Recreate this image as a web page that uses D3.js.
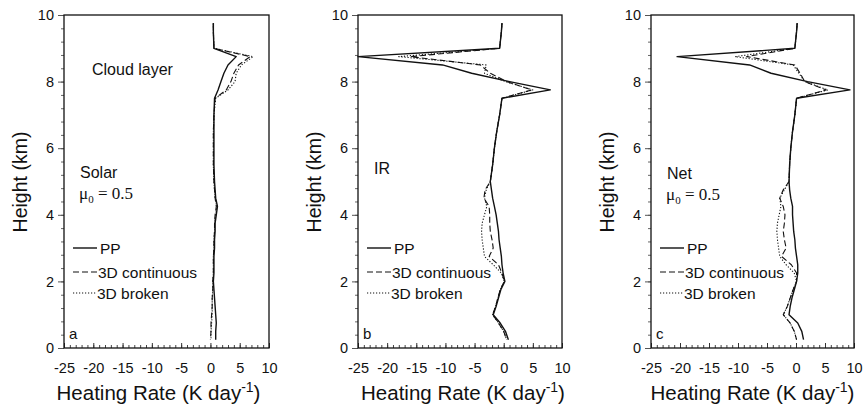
<!DOCTYPE html>
<html>
<head>
<meta charset="utf-8">
<script src="https://cdn.jsdelivr.net/npm/d3@7"></script>
<style>
  body { margin: 0; background: #fff; }
  svg { display: block; }
  text { fill: #111; }
</style>
</head>
<body>
<div id="chart"></div>
<script>
// Height levels (km) shared by every profile
const heights = [9.75, 9.5, 9.0, 8.75, 8.5, 8.25, 8.0, 7.75, 7.5, 7.0, 6.5, 6.0, 5.5, 5.0, 4.75, 4.5, 4.25,
  4.0, 3.75, 3.5, 3.25, 3.0, 2.75, 2.5, 2.25, 2.0, 1.75, 1.5, 1.25, 1.0, 0.75, 0.5, 0.25];

const xTicks = [-25, -20, -15, -10, -5, 0, 5, 10];
const yTicks = [0, 2, 4, 6, 8, 10];
const seriesNames = ['PP', '3D continuous', '3D broken'];

// Solar heating rate (K/day)
const solarPP = [0.5, 0.5, 0.6, 4.4, 3.0, 2.3, 1.8, 1.3, 0.7, 0.6, 0.6, 0.6, 0.6, 0.7, 0.8, 0.9, 1.2,
  1.0, 0.8, 0.8, 0.7, 0.7, 0.6, 0.6, 0.6, 0.5, 0.6, 0.7, 0.8, 0.9, 1.0, 0.9, 0.9];
const solar3Dc = [0.5, 0.5, 0.6, 6.8, 4.8, 4.0, 3.5, 2.7, 0.8, 0.6, 0.5, 0.5, 0.5, 0.6, 0.7, 0.8, 1.0,
  0.8, 0.7, 0.7, 0.6, 0.6, 0.5, 0.5, 0.5, 0.4, 0.4, 0.3, 0.3, 0.2, 0.1, 0.1, 0.0];
const solar3Db = [0.5, 0.5, 0.6, 7.3, 5.3, 4.4, 4.2, 3.0, 0.9, 0.6, 0.5, 0.5, 0.5, 0.6, 0.7, 0.8, 1.1,
  0.9, 0.7, 0.7, 0.6, 0.6, 0.5, 0.5, 0.5, 0.4, 0.4, 0.3, 0.3, 0.3, 0.2, 0.1, 0.1];

// IR heating rate (K/day)
const irPP = [-0.3, -0.4, -0.7, -25, -10.5, -5.5, 1.0, 8.0, -0.3, -0.7, -1.2, -1.6, -1.9, -2.3, -2.1, -1.9, -1.6,
  -1.3, -1.1, -0.9, -0.8, -0.6, -0.4, -0.3, -0.1, 0.2, -0.5, -0.9, -1.3, -1.8, -0.6, 0.3, 0.8];
const ir3Dc = [-0.3, -0.4, -0.7, -16, -4.0, -2.3, 0.5, 4.8, -0.3, -0.7, -1.2, -1.6, -1.9, -2.3, -3.2, -3.4, -2.5,
  -2.4, -2.4, -2.3, -2.0, -1.8, -2.5, -0.9, -0.3, 0.1, -0.6, -1.0, -1.4, -1.9, -0.9, 0.0, 0.5];
const ir3Db = [-0.3, -0.4, -0.7, -18, -3.0, -3.3, 0.3, 5.0, -0.3, -0.7, -1.2, -1.6, -1.9, -2.3, -3.0, -3.3, -2.9,
  -3.3, -3.7, -3.8, -3.7, -3.5, -3.3, -1.8, -0.4, 0.1, -0.6, -1.0, -1.4, -1.9, -0.9, 0.0, 0.5];

// Net heating rate (K/day)
const netPP = [0.2, 0.1, -0.2, -20.5, -8.0, -4.3, 2.0, 9.3, 0.1, -0.2, -0.6, -0.9, -1.1, -1.2, -1.1, -0.9, -0.6,
  -0.6, -0.5, -0.4, -0.2, -0.1, 0.1, 0.3, 0.3, 0.1, -0.3, -0.7, -1.0, -1.2, 0.3, 1.0, 1.3];
const net3Dc = [0.2, 0.1, -0.2, -8.5, -0.2, 0.7, 1.5, 5.2, 0.1, -0.2, -0.6, -0.9, -1.1, -1.2, -2.2, -2.8, -2.2,
  -1.9, -2.0, -2.2, -2.0, -1.7, -2.5, -0.8, 0.1, 0.1, -0.5, -1.0, -1.5, -2.2, -1.0, -0.3, 0.1];
const net3Db = [0.2, 0.1, -0.2, -10.5, -0.5, 0.5, 1.5, 5.5, 0.1, -0.2, -0.6, -0.9, -1.1, -1.2, -2.0, -2.8, -2.6,
  -2.9, -3.2, -3.3, -3.2, -3.0, -2.8, -1.7, -0.3, 0.1, -0.5, -1.0, -1.5, -2.2, -1.0, -0.3, 0.1];

const W = 865, H = 404;
const plotTop = 15, plotBottom = 348;
const SANS = '"Liberation Sans", Arial, sans-serif';
const SERIF = '"Liberation Serif", "Times New Roman", serif';
const styles = [
  { width: 1.4, dash: null },
  { width: 1.1, dash: '6,3' },
  { width: 1.1, dash: '1.2,1.8' }
];

const panels = [
  { left: 64, right: 269, series: [solarPP, solar3Dc, solar3Db], letter: 'a', name: 'Solar', mu: true, cloud: true, titleShift: -8 },
  { left: 358, right: 562, series: [irPP, ir3Dc, ir3Db], letter: 'b', name: 'IR', mu: false, cloud: false, titleShift: 3 },
  { left: 651, right: 854, series: [netPP, net3Dc, net3Db], letter: 'c', name: 'Net', mu: true, cloud: false, titleShift: 0 }
];

const svg = d3.select('#chart').append('svg')
  .attr('width', W)
  .attr('height', H)
  .style('font-family', SANS);

const y = d3.scaleLinear().domain([0, 10]).range([plotBottom, plotTop]);
const plainNum = d => String(d);   // hyphen minus, like the original

panels.forEach(p => {
  const x = d3.scaleLinear().domain([-25, 10]).range([p.left, p.right]);
  const g = svg.append('g');

  // Y axis: major + minor ticks outside
  g.append('g')
    .attr('transform', `translate(${p.left},0)`)
    .call(d3.axisLeft(y).tickValues(d3.range(0, 26).map(i => i * 0.4)).tickSize(3).tickFormat(''))
    .call(a => a.select('.domain').remove())
    .call(a => a.selectAll('line').attr('stroke', '#666'));
  g.append('g')
    .attr('transform', `translate(${p.left},0)`)
    .call(d3.axisLeft(y).tickValues(yTicks).tickSize(6).tickPadding(4).tickFormat(plainNum))
    .call(a => a.select('.domain').remove())
    .call(a => a.selectAll('line').attr('stroke', '#555'))
    .call(a => a.selectAll('text').style('font-family', SANS).style('font-size', '14.5px').attr('fill', '#111'));

  // X axis: ticks inside, labels below
  g.append('g')
    .attr('transform', `translate(0,${plotBottom})`)
    .call(d3.axisBottom(x).tickValues(d3.range(-25, 11, 1)).tickSize(-3).tickFormat(''))
    .call(a => a.select('.domain').remove())
    .call(a => a.selectAll('line').attr('stroke', '#444'));
  g.append('g')
    .attr('transform', `translate(0,${plotBottom})`)
    .call(d3.axisBottom(x).tickValues(xTicks).tickSize(-5).tickPadding(15).tickFormat(plainNum))
    .call(a => a.select('.domain').remove())
    .call(a => a.selectAll('line').attr('stroke', '#333'))
    .call(a => a.selectAll('text').style('font-family', SANS).style('font-size', '14.5px').attr('fill', '#111'));

  // Frame
  g.append('rect')
    .attr('x', p.left).attr('y', plotTop)
    .attr('width', p.right - p.left).attr('height', plotBottom - plotTop)
    .attr('fill', 'none').attr('stroke', '#111').attr('stroke-width', 1.3);

  // Profiles
  const line = d3.line()
    .x(d => x(d[1]))
    .y(d => y(d[0]));
  [2, 1, 0].forEach(i => {
    const pts = heights.map((h, k) => [h, p.series[i][k]]);
    g.append('path')
      .datum(pts)
      .attr('d', line)
      .attr('fill', 'none')
      .attr('stroke', '#111')
      .attr('stroke-width', styles[i].width)
      .attr('stroke-dasharray', styles[i].dash)
      .attr('stroke-linejoin', 'round');
  });

  // Legend
  const lx = p.left + 9;
  const legendY = [248, 272, 293];
  const textX = [lx + 27, lx + 25, lx + 24];
  seriesNames.forEach((name, i) => {
    g.append('line')
      .attr('x1', lx).attr('x2', lx + 24)
      .attr('y1', legendY[i]).attr('y2', legendY[i])
      .attr('stroke', '#111')
      .attr('stroke-width', styles[i].width)
      .attr('stroke-dasharray', styles[i].dash);
    g.append('text')
      .attr('x', textX[i]).attr('y', legendY[i] + 6)
      .style('font-size', '15.5px')
      .text(name);
  });

  // Panel letter
  g.append('text')
    .attr('x', p.left + 5).attr('y', 339)
    .style('font-size', '15px')
    .text(p.letter);

  // Panel annotations
  g.append('text')
    .attr('x', p.left + 16).attr('y', p.letter === 'c' ? 179 : (p.mu ? 178 : 174))
    .style('font-size', '16px')
    .text(p.name);
  if (p.mu) {
    const mu = g.append('text')
      .attr('x', p.left + 15).attr('y', p.letter === 'c' ? 200 : 199)
      .style('font-family', SERIF)
      .style('font-size', '17px');
    mu.append('tspan').text('μ');
    mu.append('tspan').attr('dy', 4).style('font-size', '11px').text('0');
    mu.append('tspan').attr('dy', -4).text(' = 0.5');
  }
  if (p.cloud) {
    g.append('text')
      .attr('x', p.left + 28).attr('y', 75)
      .style('font-size', '16px')
      .text('Cloud layer');
  }

  // Axis titles
  const cx = (p.left + p.right) / 2 + p.titleShift;
  const title = g.append('text')
    .attr('x', cx).attr('y', 400)
    .attr('text-anchor', 'middle')
    .style('font-size', '20.5px');
  title.append('tspan').text('Heating Rate (K day');
  title.append('tspan').attr('dy', -8).style('font-size', '14px').text('-1');
  title.append('tspan').attr('dy', 8).text(')');

  g.append('text')
    .attr('transform', `translate(${p.left - 37},182) rotate(-90)`)
    .attr('text-anchor', 'middle')
    .style('font-size', '19.5px')
    .text('Height (km)');
});
</script>
</body>
</html>
